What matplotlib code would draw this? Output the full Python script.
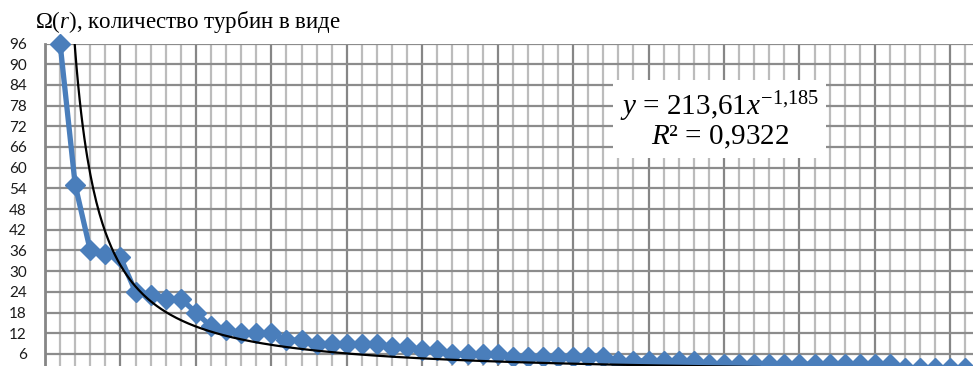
import numpy as np
import matplotlib.pyplot as plt
from matplotlib.ticker import MultipleLocator

# rank r and number of turbines Omega(r)
ranks = list(range(1, 62))
counts = [96, 55, 36, 35, 34, 24, 23, 22, 22, 18,
          14, 13, 12, 12, 12, 10, 10, 9, 9, 9,
          9, 9, 8, 8, 7, 7, 6, 6, 6, 6,
          5, 5, 5, 5, 5, 5, 5, 4, 4, 4,
          4, 4, 4, 3, 3, 3, 3, 3, 3, 3,
          3, 3, 3, 3, 3, 3, 2, 2, 2, 2, 2]
yticks = list(range(6, 97, 6))

# power trendline from the chart label
trend_a = 213.61
trend_b = -1.185
trend_label = '$y$ = 213,61$x^{\u22121{,}185}$\n$R$² = 0,9322'
title = '\u03a9($r$), количество турбин в виде'

plt.rcParams['mathtext.fontset'] = 'custom'
plt.rcParams['mathtext.rm'] = 'Liberation Serif'
plt.rcParams['mathtext.it'] = 'Liberation Serif:italic'

W, H = 973, 366
fig = plt.figure(figsize=(W / 100, H / 100), dpi=100)
ax = fig.add_axes([45 / W, 0, 1 - 45 / W, 1 - 43.5 / H])

ax.set_xlim(0, 61.5)
ax.set_ylim(2.5, 96)

ax.xaxis.set_major_locator(MultipleLocator(5))
ax.xaxis.set_minor_locator(MultipleLocator(1))
ax.set_yticks(yticks)
ax.grid(which='minor', axis='x', color='#bcbcbc', lw=1.6)
ax.grid(which='major', axis='x', color='#868686', lw=1.6)
ax.grid(which='major', axis='y', color='#8c8c8c', lw=1.6)
ax.set_axisbelow(True)
ax.tick_params(axis='x', which='both', bottom=False, labelbottom=False)
ax.tick_params(axis='y', length=0, pad=13, labelsize=11, labelcolor='#1a1a1a')
for lab in ax.get_yticklabels():
    lab.set_fontfamily('Lato')

for s in ['top', 'right', 'bottom']:
    ax.spines[s].set_visible(False)
ax.spines['left'].set_color('#868686')
ax.spines['left'].set_linewidth(2)

ax.plot(ranks, counts, color='#4a7ebb', lw=3.8, marker='D', ms=10,
        mfc='#4a7ebb', mec='#4a7ebb', clip_on=False, zorder=3)

xt = np.linspace(1.5, 61.5, 600)
ax.plot(xt, trend_a * xt ** trend_b, color='black', lw=1.6, zorder=4)

ax.text(0.727, 0.763, trend_label, transform=ax.transAxes, ha='center', va='center',
        fontsize=21, family='Liberation Serif', linespacing=1.0, zorder=5,
        bbox=dict(facecolor='white', edgecolor='none', pad=5))

fig.text(35 / W, 1 - 28 / H, title, ha='left', va='baseline',
         fontsize=16.5, family='Liberation Serif')

fig.savefig('out.png', dpi=100)
